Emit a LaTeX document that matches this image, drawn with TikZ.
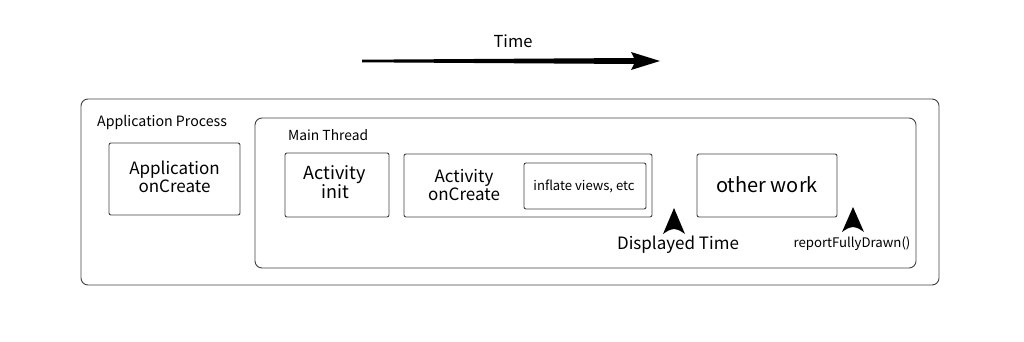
\documentclass[tikz,border=0pt]{standalone}
\usepackage{fontspec}
\setmainfont{Noto Sans CJK SC}
\begin{document}
\begin{tikzpicture}[x=1pt,y=-1pt,
  frame/.style={draw=black!75,line width=0.9pt,rounded corners=7pt},
  blk/.style={draw=black!75,line width=0.9pt,rounded corners=2pt},
  lbl/.style={inner sep=0pt,align=center,text=black},
  tip/.style={fill=black,draw=none}]
\useasboundingbox (0,0) rectangle (1024,342);
% time arrow
\node[lbl,font=\fontsize{16.5}{18}\selectfont] (time) at (513,41) {Time};
\coordinate (ts) at (362,61);
\coordinate (te) at (660,61);
\fill[black] (ts) ++(0,-1.3) -- (634,58) -- (631,52) -- (te) -- (631,70) -- (634,64) -- (362,62.3) -- cycle;
% outer frames
\draw[frame] (81,99) rectangle (939,285);
\node[lbl,anchor=west,font=\fontsize{14.2}{16}\selectfont] (ap) at (97,122) {Application Process};
\draw[frame] (255,118) rectangle (916,268);
\node[lbl,anchor=west,font=\fontsize{13.8}{15}\selectfont] (mt) at (288,135) {Main Thread};
% boxes
\draw[blk] (109,143) rectangle (240,215);
\node[lbl,font=\fontsize{17}{18}\selectfont] (aoc) at (174.5,177) {Application\\onCreate};
\draw[blk] (285,153) rectangle (389,217);
\node[lbl,font=\fontsize{18}{19.5}\selectfont] (ai) at (335,182) {Activity\\init};
\draw[blk] (404,154) rectangle (652,217);
\node[lbl,font=\fontsize{17}{18}\selectfont] (aoc2) at (464,185) {Activity\\onCreate};
\draw[blk] (524,163) rectangle (646,209);
\node[lbl,font=\fontsize{13.1}{14}\selectfont] (inf) at (584,186) {inflate views, etc};
\draw[blk] (697,154) rectangle (837,217);
\node[lbl,font=\fontsize{20}{22}\selectfont] (ow) at (767,185) {other work};
% markers
\node[lbl,font=\fontsize{17}{19}\selectfont] (dt) at (678,245) {Displayed Time};
\fill[tip] (674,208) -- (685,234) .. controls (679,230) .. (674,229) .. controls (669,230) .. (663,234) -- cycle;
\node[lbl,font=\fontsize{13.2}{14}\selectfont] (rfd) at (852,244) {reportFullyDrawn()};
\fill[tip] (853,207) -- (864,232) .. controls (858,228) .. (853,227) .. controls (848,228) .. (842,232) -- cycle;
\end{tikzpicture}
\end{document}
